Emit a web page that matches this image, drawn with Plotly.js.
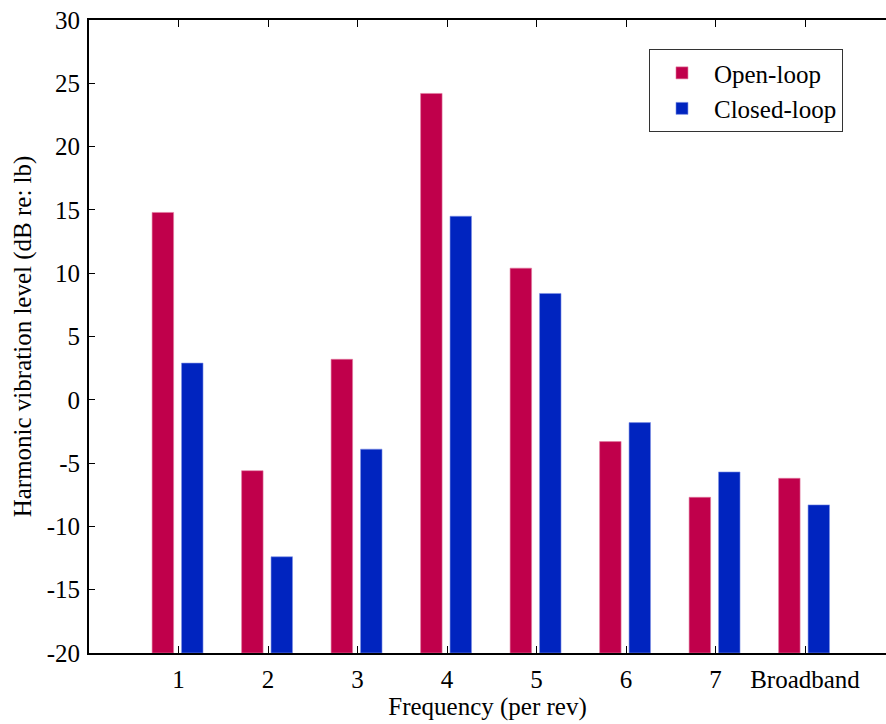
<!DOCTYPE html>
<html>
<head>
<meta charset="utf-8">
<script src="https://cdn.plot.ly/plotly-3.0.1.min.js"></script>
<style>html,body{margin:0;padding:0;background:#fff;}</style>
</head>
<body>
<div id="chart"></div>
<script>
const categories = ['1', '2', '3', '4', '5', '6', '7', 'Broadband'];
const openLoop = [14.8, -5.6, 3.2, 24.2, 10.4, -3.3, -7.7, -6.2];
const closedLoop = [2.9, -12.4, -3.9, 14.5, 8.4, -1.8, -5.7, -8.3];
const seriesNames = ['Open-loop', 'Closed-loop'];
const yTickVals = [-20, -15, -10, -5, 0, 5, 10, 15, 20, 25, 30];
const yTickText = yTickVals.map(String);

const baseLevel = -20;
const F = 'Liberation Serif';
const FS = 25;

const traces = [
  {
    type: 'bar', name: seriesNames[0], x: categories,
    y: openLoop.map(v => v - baseLevel), base: baseLevel,
    width: 0.24, offset: -0.295,
    marker: {color: '#c0004b', line: {color: '#e07aa0', width: 0.6}}
  },
  {
    type: 'bar', name: seriesNames[1], x: categories,
    y: closedLoop.map(v => v - baseLevel), base: baseLevel,
    width: 0.24, offset: 0.034,
    marker: {color: '#0024bf', line: {color: '#7f92e6', width: 0.6}}
  }
];

const layout = {
  width: 886, height: 724,
  margin: {l: 89, r: 0, t: 20, b: 71},
  paper_bgcolor: '#fff', plot_bgcolor: '#fff',
  barmode: 'overlay',
  font: {family: F, size: FS, color: '#000'},
  showlegend: true,
  legend: {
    x: 0.7026, y: 0.954, xanchor: 'left', yanchor: 'top',
    bgcolor: '#fff', bordercolor: '#333', borderwidth: 1,
    font: {family: F, size: FS, color: '#000'},
    itemwidth: 54
  },
  xaxis: {
    type: 'category', range: [-1, 7.905],
    showgrid: false, zeroline: false,
    showline: true, linecolor: '#000', linewidth: 2,
    mirror: 'ticks', ticks: 'inside', ticklen: 7, tickcolor: '#000', tickwidth: 1,
    ticklabelstandoff: 3,
    tickfont: {family: F, size: FS, color: '#000'},
    title: {text: 'Frequency (per rev)', font: {family: F, size: FS, color: '#000'}, standoff: 3}
  },
  yaxis: {
    range: [-20, 30], tickmode: 'array', tickvals: yTickVals, ticktext: yTickText,
    showgrid: false, zeroline: false,
    showline: true, linecolor: '#000', linewidth: 2,
    ticks: 'inside', ticklen: 6, tickcolor: '#000', tickwidth: 1,
    ticklabelstandoff: 2,
    tickfont: {family: F, size: FS, color: '#000'},
    title: {text: 'Harmonic vibration level (dB re: lb)', font: {family: F, size: FS, color: '#000'}, standoff: 8}
  }
};

Plotly.newPlot('chart', traces, layout, {displayModeBar: false, staticPlot: true});
</script>
</body>
</html>
